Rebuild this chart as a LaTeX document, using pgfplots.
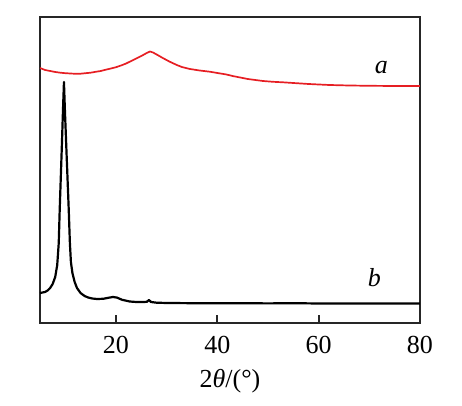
\documentclass[border=0pt]{standalone}
\usepackage{fontspec}
\setmainfont{Liberation Serif}
\usepackage{pgfplots}
\pgfplotsset{compat=1.18}
\definecolor{curvea}{RGB}{230,30,35}
\begin{document}
\begin{tikzpicture}
\begin{axis}[
  scale only axis,
  width=190pt, height=153pt,
  xmin=5, xmax=80, ymin=0, ymax=306,
  xtick={20,40,60,80},
  xtick pos=bottom,
  tick align=inside,
  major tick length=4pt,
  ytick=\empty,
  axis line style={line width=1pt, black!85},
  every tick/.style={line width=1pt, black!85},
  /pgf/number format/assume math mode=true,
  tick label style={font=\fontsize{13}{15}\selectfont},
  xticklabel style={yshift=-3pt},
  xlabel={2\textit{θ}/(°)},
  xlabel style={font=\fontsize{13}{15}\selectfont, yshift=-1pt},
  clip=true,
]
\addplot[curvea, line width=0.85pt, line join=round] coordinates {
(5,255) (6,253) (7,252) (8,251) (9,250.3) (10,249.8) (11,249.5) (12,249.2) (13,249.3) (14,249.8)
(15,250.3) (16,251.2) (17,252) (18,253.3) (19,254.5) (20,255.8) (21,257.5) (22,259.5) (23,262)
(24,264.5) (25,267) (26,269.8) (26.7,271.5) (27.3,270.5) (28.2,268) (29.3,264.8) (30.6,261.3)
(32,258) (33,256) (34.6,254) (36.5,252.5) (38.5,251.3) (40,250) (41.8,248.5) (43,247)
(44.5,245.5) (46,244) (47.5,243) (49,242) (51,241.2) (52.9,240.7) (55,240) (58,239) (62.1,238)
(66,237.5) (70,237.2) (75,237) (80,237)
};
\addplot[black, line width=1.1pt, line join=round] coordinates {
(5,30) (5.5,30.5) (6,31) (6.5,32.5) (7,35) (7.5,39) (8,46) (8.4,58) (8.7,80) (8.9,115)
(9.3,175) (9.55,215) (9.73,241) (9.9,215) (10.2,175) (10.66,115) (10.9,80) (11.1,61)
(11.4,50) (11.84,41) (12.3,35) (13,30) (13.8,27) (14.5,25.5) (15.3,24.5) (16.2,24)
(17.5,24.2) (18.6,25.3) (19.4,26) (20.2,25.4) (21.2,23.2) (22.7,21.5) (24,21) (25.5,21)
(26.1,21.2) (26.5,23) (26.9,21) (28,20.3) (30,20) (35,19.8) (40,19.7) (45,19.8) (50,19.6)
(55,19.8) (60,19.5) (70,19.5) (80,19.5)
};
\node[font=\fontsize{13}{15}\selectfont\itshape] at (axis cs:72.4,255) {a};
\node[font=\fontsize{13}{15}\selectfont\itshape] at (axis cs:71,45) {b};
\end{axis}
\pgfresetboundingbox
\path[use as bounding box] (-20pt,-41.5pt) rectangle (211pt,161.5pt);
\end{tikzpicture}
\end{document}
